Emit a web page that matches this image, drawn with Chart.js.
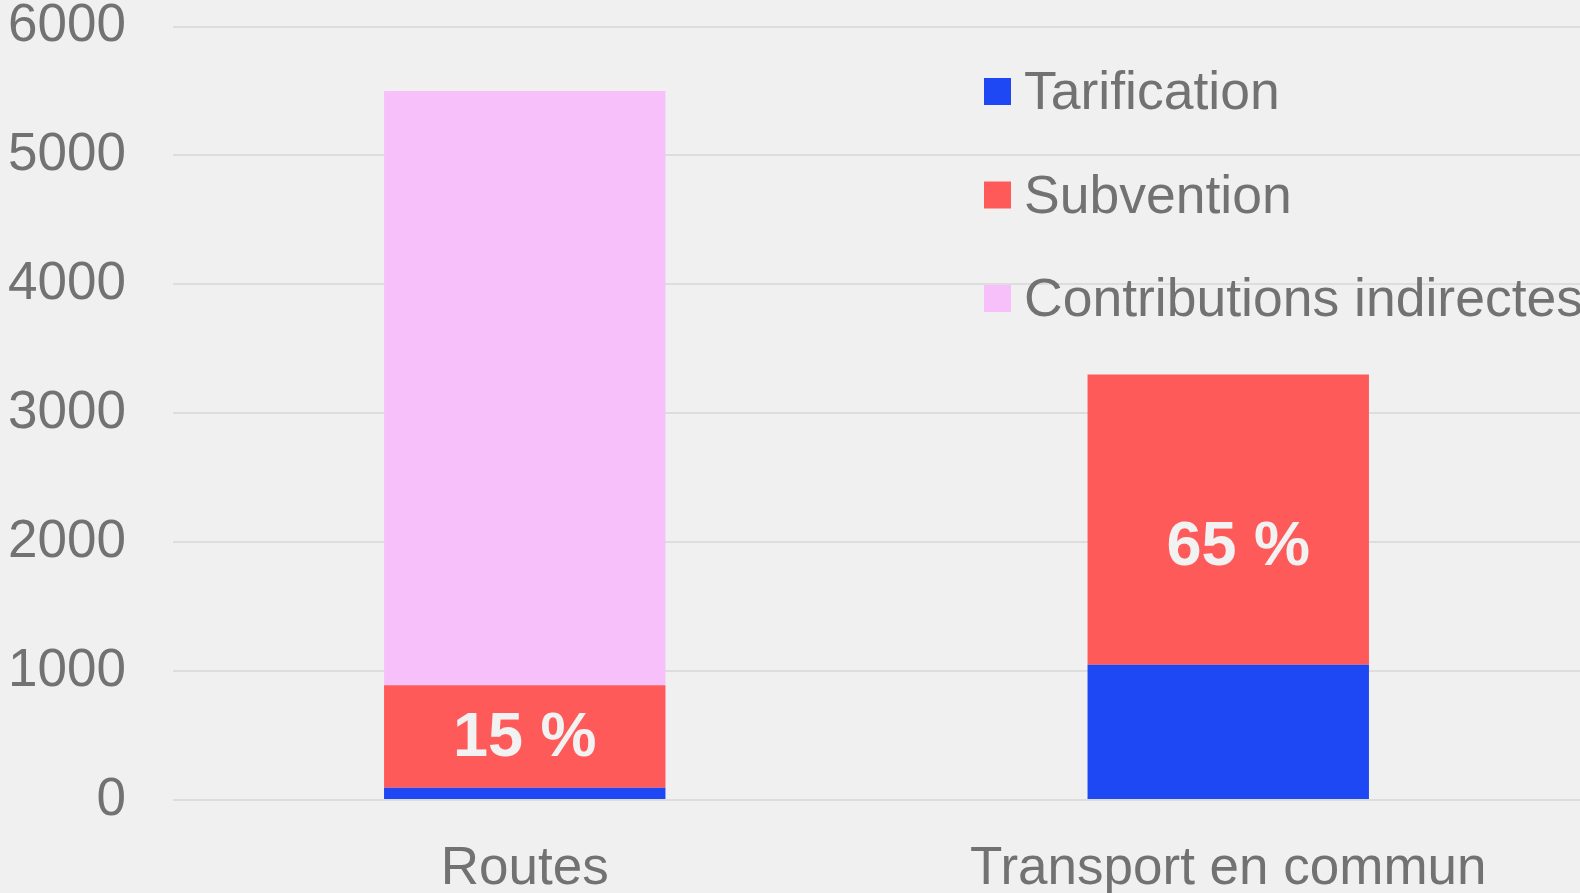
<!DOCTYPE html>
<html>
<head>
<meta charset="utf-8">
<script src="https://cdn.jsdelivr.net/npm/chart.js@4"></script>
<style>
  html, body { margin: 0; padding: 0; background: #f0f0f0; }
  #wrap { width: 1580px; height: 893px; }
</style>
</head>
<body>
<div id="wrap"><canvas id="chart" width="1580" height="893"></canvas></div>
<script>
const categories = ["Routes", "Transport en commun"];
const seriesNames = ["Tarification", "Subvention", "Contributions indirectes"];
const tarification = [95, 1050];
const subvention = [795, 2250];
const contributions = [4610, 0];
const partLabels = ["15 %", "65 %"];
const yTicks = [0, 1000, 2000, 3000, 4000, 5000, 6000];

const couleurs = ["#1d48f4", "#ff5a5a", "#f7c0fa"];
const gris = "#727272";
const police = "'Liberation Sans', Arial, sans-serif";

// legend drawn by hand, top right inside the plot
const legendeCustom = {
  id: "legendeCustom",
  afterDraw: function (chart) {
    const { ctx } = chart;
    ctx.save();
    ctx.font = "53.5px " + police;
    ctx.textBaseline = "alphabetic";
    ctx.textAlign = "left";
    chart.data.datasets.forEach((ds, i) => {
      const y = 78 + i * 103.5;
      ctx.fillStyle = ds.backgroundColor;
      ctx.fillRect(984, y, 27, 27);
      ctx.fillStyle = gris;
      ctx.fillText(ds.label, 1024, y + 31);
    });
    ctx.restore();
  },
};

// percentages written in the red segments
const etiquettes = {
  id: "etiquettes",
  afterDatasetsDraw: function (chart) {
    const { ctx } = chart;
    const meta = chart.getDatasetMeta(1);
    ctx.save();
    ctx.font = "bold 63px " + police;
    ctx.fillStyle = "#f2f2f2";
    ctx.textAlign = "center";
    ctx.textBaseline = "middle";
    meta.data.forEach((bar, i) => {
      const { x, y, base } = bar.getProps(["x", "y", "base"], true);
      ctx.fillText(partLabels[i], x + (i === 1 ? 10 : 0), (y + base) / 2 + (i === 1 ? 28 : 2));
    });
    ctx.restore();
  },
};

new Chart(document.getElementById("chart"), {
  type: "bar",
  data: {
    labels: categories,
    datasets: [
      { label: seriesNames[0], data: tarification, backgroundColor: couleurs[0] },
      { label: seriesNames[1], data: subvention, backgroundColor: couleurs[1] },
      { label: seriesNames[2], data: contributions, backgroundColor: couleurs[2] },
    ],
  },
  options: {
    responsive: false,
    animation: false,
    layout: { padding: 0 },
    categoryPercentage: 1,
    barPercentage: 0.4,
    plugins: {
      legend: { display: false },
      title: { display: false },
      tooltip: { enabled: false },
    },
    scales: {
      x: {
        stacked: true,
        grid: { display: false },
        border: { display: false },
        ticks: {
          color: gris,
          padding: 30,
          font: { family: police, size: 53, lineHeight: 1.2 },
        },
        afterFit: function (scale) { scale.height = 93; },
      },
      y: {
        stacked: true,
        min: 0,
        max: 6000,
        afterBuildTicks: function (scale) {
          scale.ticks = yTicks.map((v) => ({ value: v }));
        },
        grid: {
          color: "#dddddd",
          lineWidth: 2,
          drawTicks: true,
          tickLength: 47,
          tickColor: "rgba(0,0,0,0)",
        },
        border: { display: false },
        ticks: {
          color: gris,
          padding: 0,
          font: { family: police, size: 53, lineHeight: 1 },
          callback: function (value) { return String(value); },
        },
        afterFit: function (scale) { scale.width = 173; },
      },
    },
  },
  plugins: [etiquettes, legendeCustom],
});
</script>
</body>
</html>
